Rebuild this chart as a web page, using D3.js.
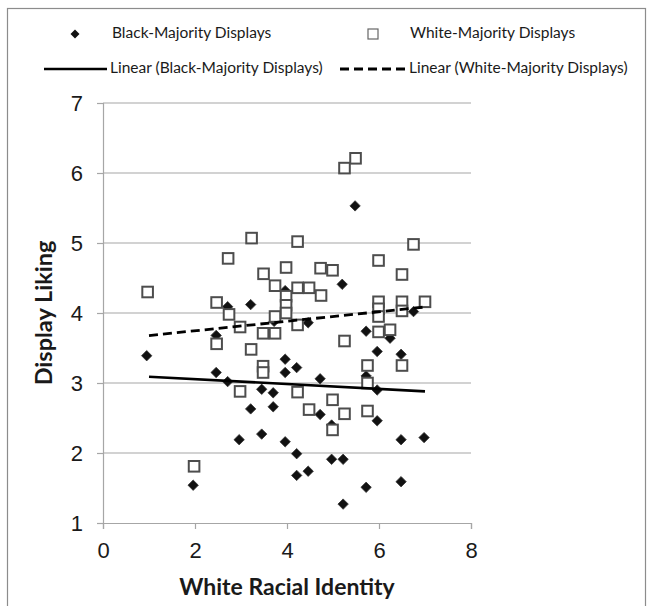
<!DOCTYPE html>
<html>
<head>
<meta charset="utf-8">
<script src="https://cdn.jsdelivr.net/npm/d3@7/dist/d3.min.js"></script>
<style>
  html, body { margin: 0; padding: 0; background: #fff; }
  svg { display: block; font-family: Lato, "Open Sans", "Liberation Sans", sans-serif; }
</style>
</head>
<body>
<svg id="chart" width="654" height="606"></svg>
<script>
// White racial identity (x) vs. display liking (y)
const blackX = [0.95, 1.96, 2.46, 2.46, 2.71, 2.71, 2.96, 3.21, 3.21, 3.45, 3.45, 3.70, 3.70, 3.72,
  3.96, 3.96, 3.96, 3.96, 4.21, 4.21, 4.21, 4.46, 4.46, 4.72, 4.72, 4.97, 4.97, 5.20, 5.22, 5.22,
  5.48, 5.72, 5.72, 5.72, 5.96, 5.96, 5.96, 6.24, 6.48, 6.48, 6.48, 6.75, 6.98];
const blackY = [3.39, 1.54, 3.68, 3.15, 4.09, 3.02, 2.19, 4.12, 2.63, 2.91, 2.27, 2.86, 2.66, 3.88,
  4.32, 3.34, 3.15, 2.16, 3.22, 1.99, 1.68, 3.86, 1.74, 3.06, 2.55, 2.40, 1.91, 4.41, 1.91, 1.27,
  5.53, 3.74, 3.10, 1.51, 3.45, 2.90, 2.46, 3.64, 3.41, 2.19, 1.59, 4.02, 2.22];

const whiteX = [0.97, 1.98, 2.47, 2.47, 2.72, 2.74, 2.98, 2.98, 3.23, 3.22, 3.49, 3.48, 3.48, 3.48,
  3.74, 3.74, 3.74, 3.98, 3.98, 3.98, 3.98, 4.23, 4.23, 4.23, 4.23, 4.48, 4.48, 4.73, 4.74, 4.99,
  4.99, 4.99, 5.25, 5.49, 5.25, 5.25, 5.75, 5.75, 5.75, 5.99, 5.99, 5.99, 5.99, 5.99, 6.24, 6.50,
  6.50, 6.50, 6.50, 6.75, 7.00];
const whiteY = [4.30, 1.81, 4.15, 3.56, 4.78, 3.98, 3.80, 2.88, 5.07, 3.48, 4.56, 3.71, 3.24, 3.15,
  4.39, 3.95, 3.71, 4.65, 4.24, 4.11, 4.00, 5.02, 4.36, 3.83, 2.87, 4.36, 2.62, 4.64, 4.25, 4.61,
  2.76, 2.33, 6.07, 6.21, 3.60, 2.56, 3.25, 3.00, 2.60, 4.75, 4.16, 4.06, 3.95, 3.73, 3.76, 4.55,
  4.16, 4.03, 3.25, 4.98, 4.16];

// Linear trend lines: [intercept, slope] and the x span they cover
const blackTrend = [3.125, -0.035];
const whiteTrend = [3.61, 0.068];
const trendSpan = [1, 7];

const xTicks = [0, 2, 4, 6, 8];
const yTicks = [1, 2, 3, 4, 5, 6, 7];

const seriesNames = ["Black-Majority Displays", "White-Majority Displays"];
const trendNames = ["Linear (Black-Majority Displays)", "Linear (White-Majority Displays)"];
const xTitle = "White Racial Identity";
const yTitle = "Display Liking";

const svg = d3.select("#chart");

const x = d3.scaleLinear().domain([0, 8]).range([103, 471]);
const y = d3.scaleLinear().domain([1, 7]).range([523, 103]);

const gridColor = "#a6a6a6";
const textColor = "#1a1a1a";

// Outer frame
svg.append("rect")
  .attr("x", 7.5).attr("y", 8.5)
  .attr("width", 638).attr("height", 610)
  .attr("fill", "none").attr("stroke", "#8c8c8c").attr("stroke-width", 1.2);

// Horizontal gridlines
svg.append("g").selectAll("line")
  .data(yTicks.slice(1))
  .join("line")
  .attr("x1", x(0)).attr("x2", x(8))
  .attr("y1", d => y(d)).attr("y2", d => y(d))
  .attr("stroke", gridColor).attr("stroke-width", 1.2);

// Axes
const xAxis = svg.append("g")
  .attr("transform", `translate(0,${y(1)})`)
  .call(d3.axisBottom(x).tickValues(xTicks).tickSize(6).tickPadding(13).tickFormat(d3.format("d")));
const yAxis = svg.append("g")
  .attr("transform", `translate(${x(0)},0)`)
  .call(d3.axisLeft(y).tickValues(yTicks).tickSize(6).tickPadding(14).tickFormat(d3.format("d")));

[xAxis, yAxis].forEach(g => {
  g.select(".domain").attr("stroke", gridColor).attr("stroke-width", 1.2);
  g.selectAll(".tick line").attr("stroke", gridColor).attr("stroke-width", 1.2);
  g.selectAll(".tick text")
    .attr("fill", textColor)
    .style("font-size", "22px");
});

// Axis titles
svg.append("text")
  .attr("x", (x(0) + x(8)) / 2).attr("y", 589)
  .attr("text-anchor", "middle").attr("dominant-baseline", "middle")
  .attr("fill", textColor)
  .style("font-size", "23px").style("font-weight", "bold")
  .text(xTitle);

svg.append("text")
  .attr("transform", `translate(46,${(y(1) + y(7)) / 2}) rotate(-90)`)
  .attr("text-anchor", "middle").attr("dominant-baseline", "middle")
  .attr("fill", textColor)
  .style("font-size", "23.5px").style("font-weight", "bold")
  .text(yTitle);

// Marker shapes
const diamondPath = "M0,-5.2L5.2,0L0,5.2L-5.2,0Z";
const sq = 5.3;

const plot = svg.append("g");

// Black-majority series: filled diamonds
plot.append("g").selectAll("path")
  .data(d3.zip(blackX, blackY))
  .join("path")
  .attr("d", diamondPath)
  .attr("transform", d => `translate(${x(d[0])},${y(d[1])})`)
  .attr("fill", "#111")
  .attr("stroke", "#333").attr("stroke-width", 0.8);

// White-majority series: open squares
plot.append("g").selectAll("rect")
  .data(d3.zip(whiteX, whiteY))
  .join("rect")
  .attr("x", d => x(d[0]) - sq).attr("y", d => y(d[1]) - sq)
  .attr("width", sq * 2).attr("height", sq * 2)
  .attr("fill", "#fff")
  .attr("stroke", "#4d4d4d").attr("stroke-width", 2);

// Trend lines
const trendLine = d3.line().x(d => x(d[0])).y(d => y(d[1]));
const trendPts = t => trendSpan.map(v => [v, t[0] + t[1] * v]);

plot.append("path")
  .attr("d", trendLine(trendPts(blackTrend)))
  .attr("fill", "none").attr("stroke", "#000").attr("stroke-width", 2.6);

plot.append("path")
  .attr("d", trendLine(trendPts(whiteTrend)))
  .attr("fill", "none").attr("stroke", "#000").attr("stroke-width", 2.8)
  .attr("stroke-dasharray", "9,5");

// Legend
const legend = svg.append("g").style("font-size", "15.5px").attr("fill", textColor);
const row1 = 34, row2 = 69;

legend.append("path").attr("d", "M0,-4.5L4.5,0L0,4.5L-4.5,0Z")
  .attr("transform", `translate(75,${row1})`).attr("fill", "#111");
legend.append("text").attr("x", 112).attr("y", row1).attr("dominant-baseline", "middle")
  .text(seriesNames[0]);

legend.append("rect").attr("x", 368).attr("y", row1 - 5).attr("width", 10).attr("height", 10)
  .attr("fill", "#fff").attr("stroke", "#666").attr("stroke-width", 1.2);
legend.append("text").attr("x", 410).attr("y", row1).attr("dominant-baseline", "middle")
  .text(seriesNames[1]);

legend.append("line").attr("x1", 44).attr("x2", 107).attr("y1", row2).attr("y2", row2)
  .attr("stroke", "#000").attr("stroke-width", 2.6);
legend.append("text").attr("x", 110).attr("y", row2).attr("dominant-baseline", "middle")
  .text(trendNames[0]);

legend.append("line").attr("x1", 340).attr("x2", 406).attr("y1", row2).attr("y2", row2)
  .attr("stroke", "#000").attr("stroke-width", 2.8).attr("stroke-dasharray", "9,5");
legend.append("text").attr("x", 409).attr("y", row2).attr("dominant-baseline", "middle")
  .text(trendNames[1]);
</script>
</body>
</html>
